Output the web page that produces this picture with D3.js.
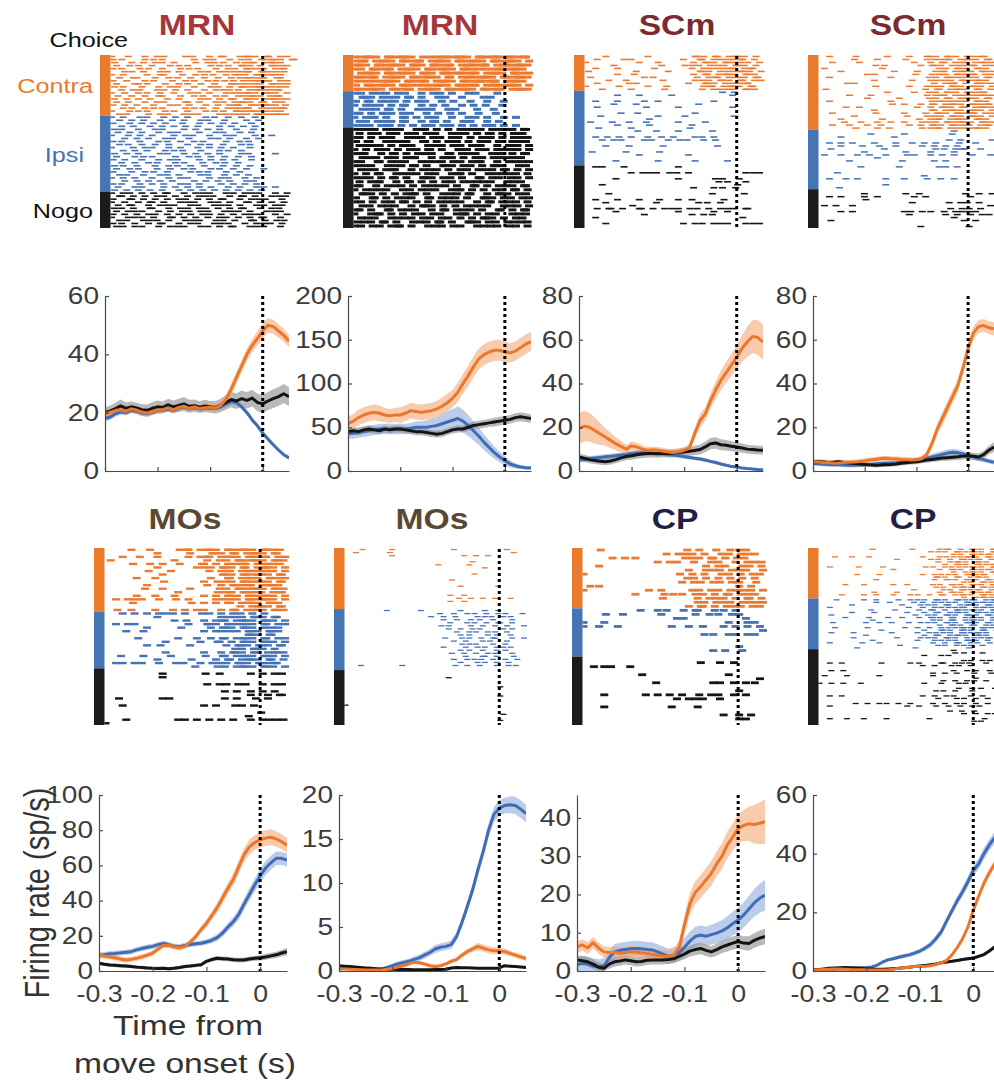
<!DOCTYPE html>
<html>
<head>
<meta charset="utf-8">
<script src="https://cdn.jsdelivr.net/npm/d3@7"></script>
<style>
html, body { margin: 0; padding: 0; background: #fff; }
svg { display: block; }
</style>
</head>
<body>
<svg id="fig" width="994" height="1083"></svg>
<script>
// ---------- Shared labels ----------
const regionNames = ["MRN", "MRN", "SCm", "SCm", "MOs", "MOs", "CP", "CP"];
const regionColors = ["#A4363C", "#A4363C", "#7C2A30", "#7C2A30", "#5A4930", "#5A4930", "#221F47", "#221F47"];
const choiceLabels = ["Contra", "Ipsi", "Nogo"];
const xTickValues = [-0.3, -0.2, -0.1, 0];
const xTickLabels = ["-0.3", "-0.2", "-0.1", "0"];

// PSTH time base (s, relative to movement onset)
const psthTime = [-0.30, -0.29, -0.28, -0.27, -0.26, -0.25, -0.24, -0.23, -0.22, -0.21, -0.20, -0.19, -0.18, -0.17, -0.16, -0.15, -0.14, -0.13, -0.12, -0.11, -0.10, -0.09, -0.08, -0.07, -0.06, -0.05, -0.04, -0.03, -0.02, -0.01, 0.00, 0.01, 0.02, 0.03, 0.04, 0.05];

// y axis limits and ticks of the eight PSTH panels
const psthYMax = [60, 200, 80, 80, 100, 20, 46, 60];
const psthYTicks = [[0, 20, 40, 60], [0, 50, 100, 150, 200], [0, 20, 40, 60, 80], [0, 20, 40, 60, 80],
                    [0, 20, 40, 60, 80, 100], [0, 5, 10, 15, 20], [0, 10, 20, 30, 40], [0, 20, 40, 60]];

// ---------- Firing rates (sp/s) and s.e.m. ----------
// MRN, neuron 1
const mrnAContra = [19.5,20.2,20.8,21.0,20.5,21.3,20.9,20.2,19.8,20.4,20.9,21.1,21.6,21.0,21.8,22.2,21.5,22.0,21.4,21.7,21.9,21.6,22.5,24.5,28.0,32.0,36.0,40.0,43.0,45.5,48.0,50.0,49.5,48.0,46.5,44.5];
const mrnAIpsi   = [18.0,18.5,19.6,20.3,20.0,20.8,20.5,19.9,19.6,20.1,20.7,20.9,21.2,20.8,21.5,21.9,21.3,21.7,21.2,21.5,21.6,21.4,22.0,23.0,23.8,23.5,22.0,20.0,17.5,15.5,13.0,11.0,9.0,7.2,5.6,4.5];
const mrnANogo   = [20.0,20.6,21.4,22.3,21.5,22.0,21.6,21.0,20.8,21.5,22.0,21.8,22.7,22.0,22.5,23.0,22.2,22.4,21.9,22.3,22.0,21.8,22.5,23.5,24.5,24.0,24.8,24.2,25.0,23.5,23.0,24.0,24.8,25.5,26.5,25.5];
const mrnAContraSem = [1.3,1.3,1.3,1.3,1.3,1.3,1.3,1.3,1.3,1.3,1.3,1.3,1.3,1.3,1.3,1.3,1.3,1.3,1.3,1.3,1.3,1.3,1.5,1.7,1.9,2.0,2.1,2.2,2.3,2.4,2.5,2.5,2.4,2.3,2.2,2.1];
const mrnAIpsiSem   = [1.0,1.0,1.0,1.0,1.0,1.0,1.0,1.0,1.0,1.0,1.0,1.0,1.0,1.0,1.0,1.0,1.0,1.0,1.0,1.0,1.0,1.0,1.1,1.1,1.0,1.0,0.9,0.9,0.9,0.8,0.8,0.7,0.7,0.6,0.6,0.6];
const mrnANogoSem   = [1.8,1.9,2.0,2.2,2.0,1.9,1.8,1.9,2.0,2.1,2.2,2.0,2.1,2.2,2.3,2.4,2.2,2.1,2.0,2.1,2.0,2.1,2.3,2.5,2.6,2.7,2.8,2.8,2.9,3.0,3.0,3.1,3.2,3.2,3.3,3.2];

// MRN, neuron 2
const mrnBContra = [54,57,61,64,66,67,66,64,63,64,64,66,69,68,67,68,69,71,74,78,83,90,100,109,119,128,133,136,138,138,136,135,137,141,145,148];
const mrnBIpsi   = [43,43,44,45,46,47,48,48,48,48,48,48,49,50,50,50,51,52,54,56,58,60,57,52,46,40,33,27,21,16,12,8,6,4.5,3.8,3.5];
const mrnBNogo   = [45,46,45,47,48,47,46,48,47,48,48,47,46,45,45,44,43,42,43,45,47,48,48,50,52,53,54,55,56,57,58,59,61,62,61,60];
const mrnBContraSem = [8,8,9,9,9,9,9,8,8,8,9,9,9,9,9,9,9,9,10,10,10,11,11,12,12,12,12,12,12,12,12,11,11,11,11,11];
const mrnBIpsiSem   = [6,6,6,6,6,6,6,6,6,6,6,6,6,7,7,8,9,10,11,12,13,14,13,12,11,10,9,8,7,6,5,4,3,2.5,2,2];
const mrnBNogoSem   = [4,4,4,4,4,4,4,4,4,4,4,4,4,4,4,4,4,4,4,4,4,4,4,4,4.5,4.5,4.5,4.5,5,5,5,5,5,5,5,5];

// SCm, neuron 1
const scmAContra = [19.5,20.5,20.0,18.5,17.0,15.5,14.0,12.5,11.2,10.0,11.5,11.0,10.0,9.5,9.7,9.5,9.0,8.7,8.5,8.8,9.5,10.5,17.0,23.0,26.0,32.0,37.0,41.5,45.0,48.5,52.0,56.0,59.0,61.5,61.0,59.0];
const scmAIpsi   = [5.0,5.3,5.6,5.9,6.2,6.5,6.7,7.0,7.3,7.6,8.0,8.2,8.3,8.2,8.1,8.0,7.8,7.5,7.3,7.0,6.6,6.2,5.8,5.5,5.0,4.4,3.9,3.2,2.6,2.1,1.8,1.4,1.1,0.9,0.7,0.6];
const scmANogo   = [6.4,5.8,5.2,4.8,4.5,4.2,4.6,5.2,6.0,6.6,7.0,7.4,7.8,8.0,8.0,7.9,8.1,8.0,8.2,8.4,8.7,9.0,9.4,9.8,11.0,12.5,12.8,12.0,11.8,11.3,11.0,10.5,10.0,9.8,9.6,9.5];
const scmAContraSem = [7,7,6.5,6,5,4,3.5,3,2.5,2,2,2,1.8,1.5,1.5,1.5,1.5,1.5,1.5,1.5,1.5,1.8,2.5,3,3,3.5,4,4.5,5,5,5.5,6,7,7.5,8,8];
const scmAIpsiSem   = [1.2,1.2,1.2,1.2,1.2,1.2,1.2,1.2,1.2,1.2,1.2,1.2,1.2,1.2,1.2,1.1,1.1,1.1,1.0,1.0,1.0,0.9,0.9,0.9,0.8,0.8,0.8,0.7,0.7,0.6,0.6,0.5,0.5,0.5,0.4,0.4];
const scmANogoSem   = [1.6,1.6,1.6,1.6,1.6,1.6,1.6,1.7,1.7,1.7,1.8,1.8,1.8,1.8,1.8,1.8,1.8,1.8,1.9,1.9,2.0,2.0,2.1,2.2,2.4,2.6,2.6,2.5,2.4,2.3,2.2,2.1,2.0,2.0,2.0,2.0];

// SCm, neuron 2
const scmBContra = [4.0,4.2,3.8,3.9,3.6,3.7,3.9,4.0,4.1,4.3,4.6,5.0,5.3,5.6,5.8,5.6,5.5,5.3,5.2,5.0,5.1,5.6,7.5,12.5,19.0,24.0,29.0,34.0,39.0,47.0,56.0,63.0,66.0,66.5,65.5,65.0];
const scmBIpsi   = [3.4,3.3,3.1,3.0,2.9,2.8,2.7,2.6,2.6,2.7,2.8,3.0,3.2,3.4,3.6,3.7,3.8,4.0,4.3,4.7,5.0,5.4,5.9,6.4,7.0,7.6,8.2,8.6,8.4,7.8,7.0,6.4,5.8,5.2,4.5,4.0];
const scmBNogo   = [4.0,4.3,4.1,3.9,4.0,4.2,3.9,3.6,3.4,3.2,3.0,2.8,2.6,2.7,2.9,3.0,3.2,3.5,3.8,4.0,4.2,4.6,5.0,5.3,5.6,5.9,6.1,6.3,6.5,6.8,7.0,6.8,6.4,7.5,9.5,11.0];
const scmBContraSem = [1.2,1.2,1.2,1.2,1.2,1.2,1.2,1.2,1.2,1.2,1.2,1.2,1.2,1.2,1.2,1.2,1.2,1.2,1.2,1.2,1.2,1.2,1.5,2,2.5,3,3,3,3,3,3,3,3,3,3,3];
const scmBIpsiSem   = [1.0,1.0,1.0,1.0,1.0,1.0,1.0,1.0,1.0,1.0,1.0,1.0,1.0,1.0,1.0,1.0,1.0,1.0,1.0,1.0,1.1,1.2,1.3,1.4,1.5,1.5,1.6,1.6,1.6,1.5,1.5,1.4,1.3,1.2,1.1,1.0];
const scmBNogoSem   = [1.0,1.0,1.0,1.0,1.0,1.0,1.0,1.0,1.0,1.0,1.0,1.0,1.0,1.0,1.0,1.0,1.0,1.0,1.0,1.0,1.1,1.1,1.2,1.2,1.3,1.3,1.4,1.4,1.5,1.5,1.6,1.6,1.7,1.8,2.0,2.2];

// MOs, neuron 1
const mosAContra = [9.0,8.5,8.0,7.5,6.8,6.3,6.6,7.2,8.0,9.0,10.2,12.5,14.5,14.6,13.8,13.2,14.0,16.5,19.5,23.5,27.0,31.5,36.0,41.5,47.0,52.0,59.0,66.0,70.5,73.0,74.5,75.5,76.0,75.0,73.5,71.5];
const mosAIpsi   = [9.0,9.3,9.8,10.0,10.3,10.6,11.0,12.0,12.8,13.5,14.0,15.0,15.7,15.0,14.0,13.8,14.5,15.0,15.5,15.8,16.5,17.5,19.0,21.5,25.0,28.0,32.0,38.0,43.5,49.0,54.0,58.5,61.5,64.0,64.0,63.0];
const mosANogo   = [4.4,3.8,3.4,3.2,3.0,2.8,2.5,2.2,2.0,1.7,1.5,1.4,1.5,1.3,1.6,2.0,2.5,2.8,3.2,3.6,5.5,6.5,7.2,7.0,6.8,6.4,6.2,6.3,6.8,7.2,7.5,8.0,8.6,9.2,10.2,11.0];
const mosAContraSem = [1.5,1.5,1.5,1.5,1.5,1.5,1.5,1.5,1.5,1.5,1.5,1.5,1.5,1.5,1.5,1.5,1.5,1.5,1.8,2.0,2.2,2.5,2.7,3.0,3.2,3.5,3.7,4.0,4.2,4.3,4.4,4.5,4.5,4.4,4.3,4.2];
const mosAIpsiSem   = [1.5,1.5,1.5,1.5,1.5,1.5,1.5,1.5,1.5,1.5,1.5,1.5,1.5,1.5,1.5,1.5,1.5,1.5,1.5,1.5,1.6,1.7,1.9,2.1,2.3,2.6,2.9,3.2,3.5,3.7,3.9,4.0,4.0,3.9,3.8,3.7];
const mosANogoSem   = [1.0,1.0,1.0,1.0,1.0,1.0,1.0,1.0,1.0,1.0,1.0,1.0,1.0,1.0,1.0,1.0,1.0,1.0,1.0,1.0,1.2,1.3,1.3,1.3,1.3,1.3,1.3,1.3,1.4,1.4,1.5,1.6,1.7,1.8,1.9,2.0];

// MOs, neuron 2
const mosBContra = [0.25,0.22,0.2,0.18,0.15,0.12,0.1,0.1,0.12,0.2,0.3,0.45,0.6,0.8,1.0,0.95,0.8,0.6,0.5,0.6,0.8,1.1,1.3,1.8,2.2,2.5,2.8,2.6,2.4,2.3,2.3,2.2,2.0,1.8,1.6,1.4];
const mosBIpsi   = [0.35,0.33,0.3,0.28,0.26,0.24,0.22,0.2,0.25,0.4,0.6,0.8,0.95,1.1,1.3,1.5,1.8,2.1,2.5,2.7,2.8,3.0,3.9,5.5,7.3,9.2,11.5,13.6,16.0,17.8,18.5,18.8,18.9,18.8,18.4,17.9];
const mosBNogo   = [0.6,0.55,0.5,0.45,0.4,0.35,0.3,0.25,0.2,0.2,0.2,0.18,0.17,0.16,0.15,0.15,0.15,0.15,0.16,0.18,0.2,0.35,0.4,0.38,0.36,0.34,0.32,0.3,0.3,0.3,0.35,0.6,0.55,0.5,0.45,0.4];
const mosBContraSem = [0.1,0.1,0.1,0.1,0.1,0.1,0.1,0.1,0.1,0.1,0.1,0.1,0.15,0.2,0.2,0.2,0.2,0.2,0.2,0.2,0.2,0.25,0.25,0.3,0.3,0.35,0.4,0.4,0.4,0.4,0.35,0.35,0.3,0.3,0.3,0.3];
const mosBIpsiSem   = [0.1,0.1,0.1,0.1,0.1,0.1,0.1,0.1,0.15,0.2,0.25,0.3,0.3,0.3,0.35,0.35,0.4,0.4,0.45,0.45,0.45,0.5,0.5,0.55,0.6,0.65,0.7,0.75,0.8,0.85,0.9,0.9,0.95,1.0,1.0,1.0];
const mosBNogoSem   = [0.08,0.08,0.08,0.08,0.08,0.08,0.08,0.08,0.08,0.08,0.08,0.08,0.08,0.08,0.08,0.08,0.08,0.08,0.08,0.08,0.08,0.08,0.08,0.08,0.08,0.08,0.08,0.08,0.08,0.08,0.08,0.08,0.08,0.08,0.08,0.08];

// CP, neuron 1
const cpAContra = [6.3,6.8,6.0,7.4,6.0,5.0,4.8,4.9,4.6,4.8,5.0,4.9,4.8,4.6,4.4,4.1,3.9,3.8,4.2,6.0,12.0,17.5,20.5,22.0,23.8,25.5,28.0,30.0,33.0,35.0,37.2,38.0,38.5,38.3,38.6,39.0];
const cpAIpsi   = [1.6,2.0,1.8,1.3,1.1,1.3,3.5,5.0,5.4,5.6,5.8,5.9,5.8,5.6,5.5,5.0,4.4,3.8,4.2,4.8,6.2,7.8,9.0,9.4,9.1,9.5,9.9,10.5,11.3,12.4,13.3,14.6,16.2,17.8,19.0,19.8];
const cpANogo   = [2.9,2.7,2.4,1.8,1.0,0.7,1.8,2.4,2.6,2.9,2.7,2.4,2.5,2.8,2.9,2.9,2.9,3.0,3.2,3.8,4.4,5.2,5.6,5.9,5.4,5.0,5.6,6.3,6.8,7.3,7.7,7.3,7.2,8.0,8.6,9.0];
const cpAContraSem = [1.5,1.5,1.5,1.5,1.5,1.5,1.5,1.5,1.5,1.5,1.5,1.5,1.5,1.5,1.5,1.5,1.5,1.5,1.5,2.0,2.5,2.8,3.0,3.0,3.1,3.2,3.3,3.4,3.5,3.6,3.8,4.0,4.5,5.0,5.5,5.8];
const cpAIpsiSem   = [2.0,2.0,2.0,2.0,2.0,2.0,2.0,2.0,2.0,2.0,2.0,2.0,2.0,2.0,2.0,2.0,2.0,2.0,2.0,2.2,2.4,2.5,2.5,2.5,2.5,2.6,2.7,2.8,3.0,3.1,3.2,3.3,3.4,3.6,3.8,4.0];
const cpANogoSem   = [1.2,1.2,1.2,1.2,1.2,1.2,1.2,1.2,1.2,1.2,1.2,1.2,1.2,1.2,1.2,1.2,1.2,1.2,1.2,1.2,1.3,1.4,1.5,1.5,1.5,1.5,1.6,1.6,1.7,1.7,1.8,1.8,1.9,1.9,2.0,2.0];

// CP, neuron 2
const cpBContra = [0.3,0.4,0.5,0.6,0.7,0.7,0.6,0.5,0.45,0.4,0.35,0.3,0.3,0.3,0.35,0.6,0.9,1.1,1.3,1.5,1.5,1.6,1.8,2.2,2.8,3.6,5.5,8.0,11.0,15.0,20.7,25.5,30.0,33.5,36.5,39.0];
const cpBIpsi   = [0.3,0.35,0.4,0.5,0.6,0.7,0.8,0.9,1.0,1.1,1.2,1.4,2.0,3.0,3.8,4.2,4.7,5.1,5.5,6.1,6.8,7.8,9.0,11.0,13.3,17.0,20.5,24.0,27.0,30.5,34.2,36.5,40.0,43.0,45.5,47.5];
const cpBNogo   = [0.3,0.5,0.7,0.9,1.0,1.1,1.2,1.1,1.0,0.9,0.8,0.7,0.6,0.6,0.7,0.8,0.9,1.1,1.3,1.5,1.7,1.9,2.1,2.4,2.8,3.1,3.3,3.6,3.9,4.2,4.4,5.0,5.6,6.8,8.2,9.0];
const cpBContraSem = [0.3,0.3,0.3,0.3,0.3,0.3,0.3,0.3,0.3,0.3,0.3,0.3,0.3,0.3,0.3,0.3,0.3,0.3,0.3,0.3,0.35,0.35,0.4,0.4,0.5,0.5,0.6,0.7,0.8,0.9,1.0,1.1,1.2,1.3,1.4,1.5];
const cpBIpsiSem   = [0.3,0.3,0.3,0.3,0.3,0.3,0.3,0.3,0.3,0.3,0.3,0.3,0.4,0.5,0.6,0.6,0.7,0.7,0.7,0.8,0.8,0.9,1.0,1.1,1.2,1.3,1.4,1.5,1.6,1.7,1.8,1.9,2.0,2.0,2.0,2.0];
const cpBNogoSem   = [0.3,0.3,0.3,0.3,0.3,0.3,0.3,0.3,0.3,0.3,0.3,0.3,0.3,0.3,0.3,0.3,0.3,0.3,0.3,0.3,0.3,0.3,0.3,0.3,0.35,0.4,0.4,0.45,0.5,0.5,0.55,0.6,0.6,0.7,0.8,0.9];

// ---------- Spike rasters ----------
// One string per trial, one character per 10 ms bin from -0.30 s;
// '.' = no spike, 'a' / 'b' / 'c' = spike early / mid / late in the bin.
const rasterBinStart = -0.30;
const rasterBinWidth = 0.01;
const spikeOffset = { a: 0.2, b: 0.5, c: 0.8 };

const mrnARasterContra = [
"a..b..c..ab...c.a..b.ca..bcab.ca.bc","b.a...c.b.a.....b.c.a..b.c.a.cbcab.ca","c...a.b.c.a.b...c..ab.a.c.bca.bcab.",
".a.c.b..a..c.b.a...c.b.a.cab.b.cabc","b.a..c.b..a..c.b.a..c..ab.cabca.bca","..c.a.b..c.a.b...c.a.bc.abca.cabc.a",
"a.b....a.cb...a.c.b.a.c.bab.cabcab.",".c..ba..c..b.a.c..b..a.c.bcabca.cb.","b..a..c.b...a.c.b..ac.b.a.abcbca.bc",
".a..cb.a..c..b.a.c..b..cabc.ab.cabc","c.b...a..b.c.a..b..c.a.b.cabcabc.ab","..a.bc...ab.c..a..b.c.ab.a.bcbabca.",
"a.c..b.a.c..b..c.a.b..c.abcab.cab.c",".b..a.c..ba..c..b.a.c.b..abcab.bca.","c..a.b.c...a.b...c.a.b.ca.cab.bcabc",
".a.b..c..ab...ca.b..c.a.bcab.ca.bc.","b.c..a..b..c.a.b..c..a.bca.cabcab.b","..b.a.c.b.a...c.b.a.c..abbca.c.abca",
"a..c.b.a..c.b..a..c.b.a.cabcabc.ab.",".c.a...b.c.a..bc.a...bc.abc.caabcab"];
const mrnARasterIpsi = [
"a.b..c.a..b.c..a..c.b..a.c..b......",".c..a.b..c..a.b..c.a..b...c..a.....","b..c..a.b.c...a..b.c..a.b..c.......",
"..a.b..c..a.b.c..a...b.c..a.b......","c.a..b..c.a...b.c..a.b..c...a......",".b.c..a..b.c.a...b..c.a..b.c.......",
"a..b.c..a...b.c.a..b..c.a...b..c...","..c..a.b..c.a..b...c.a.b..c..a.....","b.a..c...b.a.c..b.a...c..b.a.......",
".c.b..a.c..b...a.c.b..a..c.b.......","a...b.c.a..b.c...a.b.c..a..b.......","..b.c..a..c.b.a..c...b.a.c.........",
"c..a.b...c.a..b.c..a.b...c.a....b..",".a..c.b.a...c..b.a.c..b..a.c.......","b.c...a..b.c.a...b.c..a.b..c.......",
"..a.c..b.a..c.b...a.c.b..a.........","c.b..a..c..b.a.c..b...a.c..b.......",".a.c.b...a.c..b.a..c.b..a.c...a....",
"b...a.c.b..a...c.b.a..c..b.........",".c.a..b..c.a.b...c.a..b.c..a.......","a.b.c...a..b.c.a...b.c.a..b.c......",
"..c..a.b.c..a...b.c..a.b..c.a......","b.a..c..a.b..c.a.b...c..a.b.c......",".b..c.a...b.c..a.b.c...a.b..c.a.b..",
"c..a.b.c..a..b.c..a.b.c..a.b.c....."];
const mrnARasterNogo = [
"a.bc..a.b.ca..b.c.ab..c.a.bc.a..b.c",".ca.b.c..ab.c..a.bc.a..b.ca.b..c.ab","b..ca.b.c..a.bc..a.b.ca..b.c.ab..c.",
"a.c..b.ca.b..c.ab..c.a.b..ca.b.c..a",".b.ca..b.c.ab..c.a..bc.a.b..c.a.bc.","c.a.b..ca..b.c.a.bc..a.b.ca..b.c.a.",
".a.bc.a..b.c..ab.c.a..bc.a.b..c.ab.","b.c..a.bc..a.b.c..ab.c..a.bc.a..b.c","a..bc.a.b..ca.b.c..a.bc..a.b.ca..b.",
".c.a..bc.a.b..c.ab..c.a.b..ca.b.c.a","b.a.c..b.ca..b.c.a..bc.a..b.c.ab.c.",".ab.c.a..b.c.ab..c.a.b.ca..bc.a..b."];

const mrnBRasterContra = [
"abcab.cabcab.c.abcabcab.cabcabcabca","bca.bcab.cabca.bcab.cabcab.cabcab.c","cab.cabcab.cab.cabca.bcabca.bcabcab",
"ab.cabca.bcab.cabcab.cabc.abcabcab.",".bcab.cabcab.cab.cabcabca.bcab.cabc","cabca.bcab.cabcab.ca.bcabcab.cabcab",
"abc.abcab.cabca.bcab.cabcabca.bcab.","b.cabcab.cabc.abcab.cabca.bcabcab.c","cabcab.cabca.bcab.cabcab.cabca.bcab"];
const mrnBRasterIpsi = [
"ab.c.ab.c.a..b.c.a.b..c.a...b......",".cab.c.ab.ca.b..c.a..b...c.a.......","b.ca.bc.a.b.c.a..b.c...a..b..c.....",
"a.bc.a.b.ca..b.c..a..b.c..a..b.....",".c.ab.ca.b..c.ab..c.a...b..c.......","ca.b.cab.c.a..b.c..a.b..c...a......",
"a.bca.b..ca.b.c.a..b..c.a.b..c..a..",".ab.c.ab.ca..b.ca.b..c.a..b.c......","bc.a.bca.b.c..ab.c.a.b.c..ab.c..a.."];
const mrnBRasterNogo = [
"abc.a.bc.a..bca.b.c..abc.a.bc.ab.ca",".a.bc..ab.c.a.bca..bc.a.b.ca.b.cab.","ca.b.cab..c.ab.c.a.bc..a.bca.b.c.ab",
"b.ca..bc.ab..ca.b.cab.c..ab.ca.bc.a",".abc.a.b.cab..c.ab.c.a.bca..b.cab.c","a.b.cab.c..ab.ca.b..cab.c.a.bc.ab.c",
"bca..b.ca.b.c.ab..ca.bc.a..bca.b.ca",".c.ab.c.a.bca..b.cab.c..ab.c.abc.a.","ab..ca.bc.a..bc.ab.c.a.bca..b.c.abc",
"c.ab..c.ab.ca.b..cab.c.a.b.cab..c.a",".bc.a.bca..b.c.ab.c..ab.c.ab.ca.b.c","a.b.ca..bc.ab.c.a..bca.b..c.abc.a.b",
"bc.a.b.ca.b..cab.c.a.b..ca.bc..ab.c",".a.bca..b.ca.b.c..ab.c.abc.a..bc.a.","ca..b.c.ab.c..abc.a.b..ca.b.c.ab.ca",
"a.bc.ab..c.a.bc.a..bca.b.c..ab.ca.b",".cab.c..a.bca.b..c.ab.ca..b.cab.c.a","b..ca.b.c.ab..ca.bc.a.b..cab.c.a.bc",
"ab.c..ab.ca.b.c..abc.a..b.ca.bc.a.b",".c.a.bc.a..b.cab.c..a.bc.ab..c.ab.c","ca.b..ca.bc.a..b.ca.bc.a.b..ca.b.ca",
"a..bca.b.c..ab.c.a..bca.b.c.a..bc.a",".bc.a..bc.ab.c.a.bc..a.b.cab.c..ab.","c.ab.ca.b..c.ab.ca.b..cab.c.a.bc.ab",
"ab.c.a.bca.b..c.ab.c.a..bc.ab.c.a.b"];

const scmARasterContra = [
"....a.......b........cab.ca.bcab.c.","..b....c.a.........b..ca.bc.abca.b.","a.........c...b......b.cab.cabc.a.b",
".....c.........a...c.ab.c.ab.cab.c.","..a...b......c.......a.bc.abca.bca.","c.........a.....b.....cab.c.abcab.c",
"......b..c...........b.ca.bcab.cab.",".a.........c.b........a.bca.bcab.ca","....c...a......b.....c.ab.cab.ca.bc",
"..b.....c.a.........b..cab.c.abca..","a.....c.....b...a......bca.bcab.ca.","...b.....a.....c.......a.bc.ab.cab."];
const scmARasterIpsi = [
"...........................a.b....","......b...c......a...........a.....","...................................",
"..a...b....c..b..........b.........",".....c....a...........b............","..b.........a.....b..........a.....",
"...................................",".......a..b..........c.............","...a..........b....c.........b.....",
"............c......................",".a...b..c...a.....b....c...........","......b.....c........a.............",
"..c......a..........c..............","..........b...a...b......a.........","...................................",
"..a.b.c..a..b..a.b...c.a.b.........","...b.c.a...c.a..b.c.a..b.c.........","...................................",
"....a...c......b..........a........","...................................",".b......a.....c....................",
"..........c.........b..............","...................................","......a.......b......c......a......",
"..................................."];
const scmARasterNogo = [
"..ab...c..........b...............","...................................",".........a.bc.a.c.a.b..........c.ab",
"...................................","......a...........b......c.a..b....","..........................b.a..c...",
"...b..........................a....",".....................b...b.a.c.....","...................................",
"....c....................a.....b...","...................................","..a...b...c...c...b..a.....b.......",
"....a.........a.......b.a.c........",".........b.........................","..b.ca.b..ca.b.c.ab.c.a.b.c.ab.ca..",
"......a...........b......b..a......","...........c.........a.b.a.........","..a............................a...",
"...................................","....a..............b.c.a.bc.a..c.ab","..................................."];

const scmBRasterContra = [
"..a....b.....c....a..cab.cab.cabca.",".......a...c.....b...c.abca.bcab.ca","..c.....a..........a..b.ca.bca.bcab",
"...........b.a......b.cab.c.abca.bc",".a..........c...........ab.cab.cab.","....b..........a...c...bca.bcab.cab",
".........c.a.......b..c.ab.cabca.bc","..a...........b.......ab.cabc.ab.ca","...........a......c...bc.ab.cabcab.",
".....c.a...............a.bca.b.cabc","...........b......a..c.ab.cab.cab.c",".b...................b.ca.bcab.ca.b",
".............c.....a..ab.cab.cabca.","......a...b..........c.bca.bc.abcab",".........c......a.....ab.ca.bcab.ca",
"..a...........b.......c.abc.ab.cab.","..............c..a..b.ca.bcab.cabca",".....b..a..........c..b.cab.ca.bcab",
"...........a..........ca.bcab.cab.c","..c........b.....a...b.cab.cabca.bc",".......a.........c...c.ab.cab.cab.c",
"....b.......c.......a.bca.bcab.cab.",".....a..b..c..b..a..c.ab.cabcab.cab","..c...a..c..b.....a.b.cab.cabca.bca",
".......b...c..a.....c.bca.bc.abcab."];
const scmBRasterIpsi = [
"...........................a.......","..........b......a........c.........","....b..........a...................",
"..........................a.b.....c","..a.b.c....a...b..c..a.b....a..b...","....b...c...a..b....c..a.b.c.......",
"..b..........a.........b.a.bca..b..",".........a.......b....b....a.......",".a..b..c..a..b...c.a..b.c..a..c...b",
"...........c.......................","......a.........c......a.b.........","...................................",
"........b.......a.......ab.c.......","...................................","...c...............................",
".....................a.............","..a..b.c.....b...a...c..b..a.......","...................................",
".............b.....................","....a.............................."];
const scmBRasterNogo = [
"...................................",".........a.......b..a........b..a.c","..a.b....a.c.......a.b........b....",
".........b.........................","..................c.......a.bc..a..",".a.b..c...........................b",
"..........................b.c.a.b..","....b.c..........ab.c.b..a.bc.ab...","..................a......b.c..b.c.a",
"...........................a.......","..b..........................a.b...","...................................",
"....................b.........a...."];

const mosARasterContra = [
".....a..c.....bca.bcab.cabcab.cabc.","..........a.....b...cab.ca.bcab.ca.","...b..c...a.....a.bca.bcab.cabca.bc",
".a...........b.....c..ab.cabcab.cab",".....b..c..a..b...ca.b.cabca.bcabc.","..........a......c.ab.cab.ca.bcab.c",
"........b...c.......a.bca.bcabcab.c","...........a..........cab.cabcab.ca","......a..c..........b..ca.bcab.cabc",
"...........b.......a.c.ab.cabcab.ca","........a..........c..b.cabca.bcab.",".......c...a....b.....ab.cabcab.cab",
"..............a......c.ab.cabca.bca","......a..c...b.....a.b.cab.cabcab.c","..a.bc.a..b..c..a....bc.ab.cabcab.c",
".....b..........c..a.b.ca.bcab.cab.","..........................a.bcab.ca","..b..a...c...a.b.c.a..b.ca.bcab.cab"];
const mosARasterIpsi = [
"...b.c..a.bc.a.b..c.a.b.c.a.b.c....","..........a...........bc.ab.cab.ca..",".............b.c...a.bca.bcab.cab.c",
"..a.bc..........a..cab.cabcab.ca.bc","........a.....c.....b.cab.cab.c.ab.","....a..b...........a.bc.ab.cab.cab.",
"...........................cab.ca..","......b.......a..c..b.ca.bcab.ca.bc","...........c......b..ca.b.cab.cab.c",
"........a.c.....b......b.cab.cab.ca",".........................ab.cab.c..","...........c.......a..b.cab.ca.bcab",
"...a...b....c......b..ca.bcab.cab.c","..........a.....c....b.ca.bcab.ca.b","..ab.c.a..b..c.a..b.c.ab.cab.cabca.",
".................b...c.a.bcab.cab.c"];
const mosARasterNogo = [
"...................................","...........a.......b..a.....a.b.c.a","...........a.......................",
"...................................","...................c..ab.c.a..b.c.a","...................................",
".......................a.b..a.b.c..","............................a..b.ca.","..c........ab..........a.b...a.b....",
"...................................","...b...............a.b...ab.c......","...................................",
"..............................a....","...........................c.......","....a.........ab.c..a.b.c...a.bc.ab",
"a.................................."];

const mosBRasterContra = [
"...b.....a...........a.........b...","..a.....c.......................c..",".........a.............a.b.c.......",
"...................................","........................c..........","..................a.....a..........",
"...........................a.......","...................................",".........................a.........",
"...................................","....................c..............","...................................",
"......................b......c.....","...................................","...................................",
"....................b..a...........","......................a.b.c..a..a..","....................b..a...........",
"...................................","..................................."];
const mosBRasterIpsi = [
"........a.....c.......b....a.c.....","..................b..a.c.a.b.c.a..b","................c..a.b...c.ab.c.a..",
"...................a.c..b.a.c...b..","....................b..c.a.b.ca.b..","..................c.a...b.c..a.b..c",
"....................a.b.c.a...c.b..",".....................c..ab.c.a.b...","......................b.a..c.b..a..",
"...................b..c.a.b.ca..b.c",".....................a.b..c.a..b...","......................c.ab..c..a...",
"...................a...b.c.a.bc.a..","......................b.a.c..b.a...","....................c..a.b.c.a..b..",
".......................b..ca.b..c..",".....................a.c.ab.c..a.b.","......................b..c.a.b.c...",
"...a.......a.........b.c..a..b.c.a.","..................................."];
const mosBRasterNogo = [
"...................................","...................................","....................a..............",
"...................................","...................................","..............................a....",
"...................................","...................................","..............................a....",
"...................................","...................................","a..................................",
"...................................","...................................","..............................c....",
"...................................","..............................a....","..................................."];

const cpARasterContra = [
"...b................a.b..c..b.ab...","................a.bc.a.b..c.a.bc.a.",".....c..a.a........c.ab.ca.b.c.a...",
"..............b.c.a..b..c.a..b.c.ab","...a...................c..ab..c.a.b","....................b..c.ab.c.ab..c",
"a.................c..a.b..c.a.b.c.a","....................ab.c..a.b.c..a.","...................a.bc..ab.c.a..b.",
".b.a..........................a.b..","a...........c..a.....ab.c.a.bc.ab.c","..........a....c.b.a.c.a.b.ca.bc.a.",
"...............b......a.bc.a.b.ca.b","......................ab.c.ab.c.abc","....................b.ca.b.c.ab.c.a"];
const cpARasterIpsi = [
"...........a..b.a..b.ca..b.a.b.....","....b..c.......a.....c..b.a.c.a....","..................ab...........b...",
"a...a.......................a..c.a..","a..a..c..........a..b..a...a.b.c..a","..................................c",
".......................b.a..ab.c.a..","...................................","...................................",
"..............................a....",".........................a.b..c....","..................................."];
const cpARasterNogo = [
"...................................","......................c...b..a....","..a.ab...a.........................",
"...................................","...........b................a......","..................................a",
"..............a..........ab..a.b.a..","...................................","..............................a....",
"....a.......a.b.c..a..b.c.a..a.b...","..................a.bc.a..b........","...................................",
"....a............a....a............","...................................","...........................a..a.b..",
"..............................ab...","..................................."];

const cpBRasterContra = [
"..........b.......a....bca.b.cab.ca",".....................c.ab.cabcab.ca","..........................ab.cabcab",
"...a..b..c..........a..bc.abcab.cab","...............a.....c.a.b.cabca.bc",".......................a.bcab.cab.c",
"........................b.cab.cabca","..a....c....b.......c.a.bc.abcab.ca","..............b........b.cab.cabcab",
"..........................a.bcab.ca",".......b...c........a.bc.ab.cabca.b","......................cab.ca.bcab.c",
"...........a..........b.cab.cab.cab","............................ab.cabc",".....a..c.....b..a....ab.cab.cab.ca",
"......................c.a.bcab.cab.","..................b.....ab.cabca.bc","..........c....a.......b.cab.cabcab",
"....b...c..a..b..c.a.b.ca.bcab.cabc","............................a.bcab."];
const cpBRasterIpsi = [
"...b....c..a...b.c.ab.cab.cabca.bca","...........a.c....b.a.bc.ab.cabcab.","......b.........a..c.ab.ca.bcab.cab",
"..a..............b..a.bc.abca.bcab.","..........a...c....b.ca.b.cabcab.ca","......b...c......a..b.ca.bcab.cabc.",
"..b...............c..ab.cab.cab.cab",".....a...c...b..a..b.cab.ca.bcab.ca","..........b...........ab.ca.bcab.c.",
"..c......a.c..a..b.c.ab.cab.cab.cab",".......................b.cab.ca.bc.","...a.....b......c..a.b.c.abcab.cab.",
"............a.......b..cab.cab.ca.b","..b...c.......a....a.bc.ab.cabcab.c",".........a..........b.ca.bcab.cab.c",
"......c........a...c.ab.cab.c.abca.","..........b........a..bc.ab.cab.c..","..a.....b..c..........a.b.ca.bc..a.",
"...............c.......ab.c.ab.c...",".......b..........c..........a....."];
const cpBRasterNogo = [
"..........................a........","..........................b.a..c...","....................b..c.a.........",
"...................................","............................ab.c.a.","..a.b.......a....c.b...ca.bc.a..b..",
"....................a.b..c.a.b.....","...................................","..b.c.....................a.c.b..a.",
"......................a.b.c...a..b..",".a...b.....c..........a............","..............................b....",
"........................a.b.c.a.b.c","a.b.c...a...........b..c...ab......","...................................",
"...........................a.c.b..a","......................c.a.b..c......","...................................",
"..a.b...............a.b.c.a..b.c...",".......................a..c.a.b.c..","...................................",
".......a.b.c.a.b.c....a.b.c.a.b.c..","..a..............a.b..c..a.b.c.a...","...................................",
".........................b.c..a....","............................a.b.c.a","...................................",
"..a..b..c....a.......b..........a..","..............................ab...","..................................."];

// ---------- Styling ----------
const FONT = "'Liberation Sans', Arial, Helvetica, sans-serif";
const TEXT_SX = 1.2;            // glyphs are drawn horizontally widened
const TICK_SX = 1.22;
const XTICK_SX = 1.16;
const barColors = ["#E97B2D", "#4575B4", "#1B1B1B"];
const spikeColors = ["#EB7A2E", "#4673B6", "#161616"];
const lineColors = ["#EC772A", "#3E6DB5", "#141414"];
const bandColors = ["#F2A875", "#8EACDA", "#8A8A8A"];
const axisColor = "#4a4a4a";
const tickTextColor = "#3c3c3c";

// ---------- Layout ----------
const psthRows = [{ top: 296, bottom: 471 }, { top: 795, bottom: 971 }];
const rasterRows = [{ top: 55, bottom: 228 }, { top: 548, bottom: 725 }];
const psthLeft = [105, 348, 579, 813, 99, 339, 577, 813];
const psthWidth = [184, 183, 184, 181, 188, 187, 188, 187];
const titleX = [197, 440, 677, 908, 185, 432, 675, 913];
const titleY = [35, 529];
const spikeWidth = [7, 8, 7, 7, 8, 6, 8, 6];
const spikeHeight = [1.6, 3.0, 1.6, 1.5, 2.4, 1.3, 2.8, 1.3];

const rasters = [
  [mrnARasterContra, mrnARasterIpsi, mrnARasterNogo],
  [mrnBRasterContra, mrnBRasterIpsi, mrnBRasterNogo],
  [scmARasterContra, scmARasterIpsi, scmARasterNogo],
  [scmBRasterContra, scmBRasterIpsi, scmBRasterNogo],
  [mosARasterContra, mosARasterIpsi, mosARasterNogo],
  [mosBRasterContra, mosBRasterIpsi, mosBRasterNogo],
  [cpARasterContra, cpARasterIpsi, cpARasterNogo],
  [cpBRasterContra, cpBRasterIpsi, cpBRasterNogo]
];
const rates = [
  [[mrnAContra, mrnAContraSem], [mrnAIpsi, mrnAIpsiSem], [mrnANogo, mrnANogoSem]],
  [[mrnBContra, mrnBContraSem], [mrnBIpsi, mrnBIpsiSem], [mrnBNogo, mrnBNogoSem]],
  [[scmAContra, scmAContraSem], [scmAIpsi, scmAIpsiSem], [scmANogo, scmANogoSem]],
  [[scmBContra, scmBContraSem], [scmBIpsi, scmBIpsiSem], [scmBNogo, scmBNogoSem]],
  [[mosAContra, mosAContraSem], [mosAIpsi, mosAIpsiSem], [mosANogo, mosANogoSem]],
  [[mosBContra, mosBContraSem], [mosBIpsi, mosBIpsiSem], [mosBNogo, mosBNogoSem]],
  [[cpAContra, cpAContraSem], [cpAIpsi, cpAIpsiSem], [cpANogo, cpANogoSem]],
  [[cpBContra, cpBContraSem], [cpBIpsi, cpBIpsiSem], [cpBNogo, cpBNogoSem]]
];

const svg = d3.select("#fig");
svg.append("rect").attr("width", 994).attr("height", 1083).attr("fill", "#fff");

function stretchedText(parent, x, y, str, o) {
  const tf = `translate(${x},${y}) scale(${o.sx || TEXT_SX},1)` + (o.rotate ? ` rotate(${o.rotate})` : "");
  const g = parent.append("g").attr("transform", tf);
  return g.append("text")
    .attr("text-anchor", o.anchor || "middle")
    .attr("font-family", FONT)
    .attr("font-size", o.size)
    .attr("font-weight", o.weight || "normal")
    .attr("fill", o.fill || "#000")
    .text(str);
}

function dottedLine(g, x, y1, y2) {
  g.append("line")
    .attr("x1", x).attr("x2", x).attr("y1", y1).attr("y2", y2)
    .attr("stroke", "#000").attr("stroke-width", 3)
    .attr("stroke-dasharray", "3,3");
}

// ---------- Rasters ----------
function drawRaster(k) {
  const row = rasterRows[Math.floor(k / 4)];
  const groups = rasters[k];
  const g = svg.append("g");
  const trials = [];
  groups.forEach((list, ci) => list.forEach(s => trials.push({ ci, s })));

  const y = d3.scaleBand().domain(d3.range(trials.length)).range([row.top, row.bottom]);
  // same time axis as the PSTH below, with the first bin starting just right of the colour bar
  const psthX = d3.scaleLinear().domain([-0.3, 0.05]).range([psthLeft[k], psthLeft[k] + psthWidth[k]]);
  const x = d3.scaleLinear().domain([-0.3, 0]).range([psthLeft[k] + 5.5, psthX(0)]);
  const barX = psthLeft[k] - 5;

  // trial-type colour bar
  let start = 0;
  const segments = [];
  groups.forEach((list, ci) => {
    const y0 = y(start), y1 = y(start + list.length - 1) + y.bandwidth();
    g.append("rect").attr("x", barX).attr("y", y0).attr("width", 10.5).attr("height", y1 - y0)
      .attr("fill", barColors[ci]);
    segments.push((y0 + y1) / 2);
    start += list.length;
  });

  const spikes = [];
  trials.forEach((tr, i) => {
    for (let b = 0; b < tr.s.length; b++) {
      const ch = tr.s[b];
      if (ch in spikeOffset) {
        spikes.push({ t: rasterBinStart + (b + spikeOffset[ch]) * rasterBinWidth, i, ci: tr.ci });
      }
    }
  });
  const w = spikeWidth[k], h = spikeHeight[k];
  const xMin = x(-0.3);
  g.append("g").selectAll("rect").data(spikes).join("rect")
    .attr("x", d => Math.max(xMin, x(d.t) - w / 2))
    .attr("y", d => y(d.i) + (y.bandwidth() - h) / 2)
    .attr("width", d => x(d.t) + w / 2 - Math.max(xMin, x(d.t) - w / 2))
    .attr("height", h)
    .attr("fill", d => spikeColors[d.ci]);

  dottedLine(g, x(0), row.top + 1, row.bottom);

  stretchedText(svg, titleX[k], titleY[Math.floor(k / 4)], regionNames[k],
    { size: 29, weight: "bold", fill: regionColors[k], sx: 1.16 });

  return segments;
}

// ---------- PSTHs ----------
function drawPsth(k) {
  const bottomRow = k >= 4;
  const row = psthRows[bottomRow ? 1 : 0];
  const x = d3.scaleLinear().domain([-0.3, 0.05]).range([psthLeft[k], psthLeft[k] + psthWidth[k]]);
  const y = d3.scaleLinear().domain([0, psthYMax[k]]).range([row.bottom, row.top]);
  const g = svg.append("g");

  const clipId = "clip" + k;
  g.append("clipPath").attr("id", clipId).append("rect")
    .attr("x", x(-0.3)).attr("y", row.top - 2).attr("width", x(0.05) - x(-0.3)).attr("height", row.bottom - row.top + 2);
  const plot = g.append("g").attr("clip-path", `url(#${clipId})`);

  const order = [1, 2, 0];   // ipsi, nogo, contra on top
  order.forEach(ci => {
    const [mean, sem] = rates[k][ci];
    const area = d3.area()
      .x((d, i) => x(psthTime[i]))
      .y0((d, i) => y(Math.max(0, d - sem[i])))
      .y1((d, i) => y(d + sem[i]));
    plot.append("path").datum(mean).attr("d", area)
      .attr("fill", bandColors[ci]).attr("fill-opacity", 0.6);
  });
  order.forEach(ci => {
    const [mean] = rates[k][ci];
    const line = d3.line().x((d, i) => x(psthTime[i])).y(d => y(d));
    plot.append("path").datum(mean).attr("d", line)
      .attr("fill", "none").attr("stroke", lineColors[ci])
      .attr("stroke-width", 3).attr("stroke-linejoin", "round");
  });

  dottedLine(g, x(0), row.top, row.bottom);

  // axes
  const yAxis = d3.axisLeft(y).tickValues(psthYTicks[k]).tickSizeInner(-4).tickSizeOuter(0).tickPadding(6)
    .tickFormat(d3.format("d"));
  const ya = g.append("g").attr("transform", `translate(${x(-0.3)},0)`).call(yAxis);
  const xAxis = d3.axisBottom(x).tickValues(xTickValues).tickSizeInner(-4).tickSizeOuter(0).tickPadding(15)
    .tickFormat((d, i) => bottomRow ? xTickLabels[i] : "");
  const xa = g.append("g").attr("transform", `translate(0,${row.bottom})`).call(xAxis);

  [ya, xa].forEach(a => {
    a.select(".domain").attr("stroke", axisColor).attr("stroke-width", 1.2);
    a.selectAll(".tick line").attr("stroke", axisColor).attr("stroke-width", 1.2);
    a.attr("font-family", FONT).attr("font-size", 23);
    a.selectAll(".tick text").attr("fill", tickTextColor);
  });
  ya.selectAll(".tick text").attr("x", -6 / TICK_SX).attr("transform", `scale(${TICK_SX},1)`);
  xa.selectAll(".tick text").attr("transform", `scale(${XTICK_SX},1)`);
}

let legendRows = null;
for (let k = 0; k < 8; k++) {
  const seg = drawRaster(k);
  if (k === 0) legendRows = seg;
  drawPsth(k);
}

// choice legend beside the first raster
stretchedText(svg, 128, 47, "Choice", { size: 21, anchor: "end", fill: "#111" });
const legendRight = [93, 84, 93];
const legendFill = ["#E97B2D", "#4575B4", "#111"];
choiceLabels.forEach((lab, ci) => {
  stretchedText(svg, legendRight[ci], legendRows[ci] + 8, lab, { size: 21, anchor: "end", fill: legendFill[ci] });
});

// axis titles
stretchedText(svg, 49, 893, "Firing rate (sp/s)", { size: 29, fill: "#333", rotate: -90 });
stretchedText(svg, 188, 1035, "Time from", { size: 28, fill: "#333" });
stretchedText(svg, 185, 1073, "move onset (s)", { size: 28, fill: "#333" });
</script>
</body>
</html>
